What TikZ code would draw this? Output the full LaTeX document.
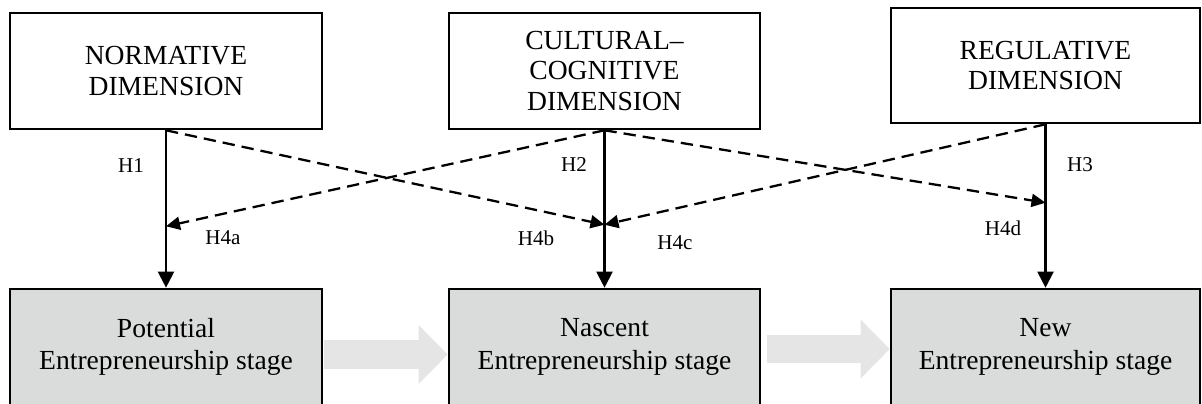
\documentclass[tikz,border=0pt]{standalone}
\usepackage{fontspec}
\setmainfont{Liberation Serif}
\usetikzlibrary{arrows.meta,positioning,calc}
\definecolor{stagegray}{RGB}{218,220,219}
\definecolor{flowgray}{RGB}{229,229,229}
\tikzset{
dim/.style={draw,line width=1.5pt,inner sep=0pt,minimum width=#1,minimum height=2.32cm,align=center,font=\fontsize{15.7}{17.6}\selectfont},
stage/.style={dim=#1,fill=stagegray,font=\fontsize{15.7}{18.6}\selectfont},
hyp/.style={-{Triangle[length=0.32cm,width=0.32cm]},line width=1.2pt},
mod/.style={-{Triangle[length=0.28cm,width=0.26cm]},line width=1.3pt,dash pattern=on 7pt off 4pt},
flow/.style={draw=flowgray,line width=0.57cm,-{Triangle[length=0.58cm,width=1.14cm]}},
lbl/.style={font=\fontsize{12}{14}\selectfont,inner sep=0pt},
}

\begin{document}
\begin{tikzpicture}[x=0.02cm,y=-0.02cm]
  \useasboundingbox (0,0) rectangle (1202,404);
  \node[dim=6.24cm] (d1) at (166,71) {NORMATIVE\\DIMENSION};
  \node[dim=6.22cm] (d2) at (604.5,71) {CULTURAL--\\COGNITIVE\\DIMENSION};
  \node[dim=6.18cm,minimum height=2.3cm] (d3) at (1045.5,65.5) {REGULATIVE\\DIMENSION};
  \foreach \i/\x/\w/\t in {1/166/6.24/Potential,2/604.5/6.22/Nascent,3/1045.5/6.18/New}
  { \node[stage=\w cm] (s\i) at (\x,347) {\t\\Entrepreneurship stage}; }

  \draw[flow,shorten <=0.02cm] ([yshift=-0.15cm]s1.east) -- ([yshift=-0.15cm]s2.west);
  \draw[flow,shorten <=0.12cm] ([yshift=-0.04cm]s2.east) -- ([yshift=-0.04cm]s3.west);

  \foreach \i in {1,2,3} { \draw[hyp] (d\i) -- (s\i); }
  \coordinate (m1) at ($(d1.south)!0.61!(s1.north)$);
  \coordinate (m2) at ($(d2.south)!0.6!(s2.north)$);
  \coordinate (m3) at ($(d3.south)!0.48!(s3.north)$);
  \draw[mod] (d2.south) -- (m1);
  \draw[mod] (d1.south) -- (m2);
  \draw[mod] (d3.south) -- (m2);
  \draw[mod] (d2.south) -- (m3);

  \node[lbl] (h1) at (131,166) {H1};
  \node[lbl] (h2) at (574,165) {H2};
  \node[lbl] (h3) at (1080,165) {H3};
  \node[lbl] (h4a) at (223,238) {H4a};
  \node[lbl] (h4b) at (536,238) {H4b};
  \node[lbl] (h4c) at (675,243) {H4c};
  \node[lbl] (h4d) at (1003,228) {H4d};
\end{tikzpicture}
\end{document}
